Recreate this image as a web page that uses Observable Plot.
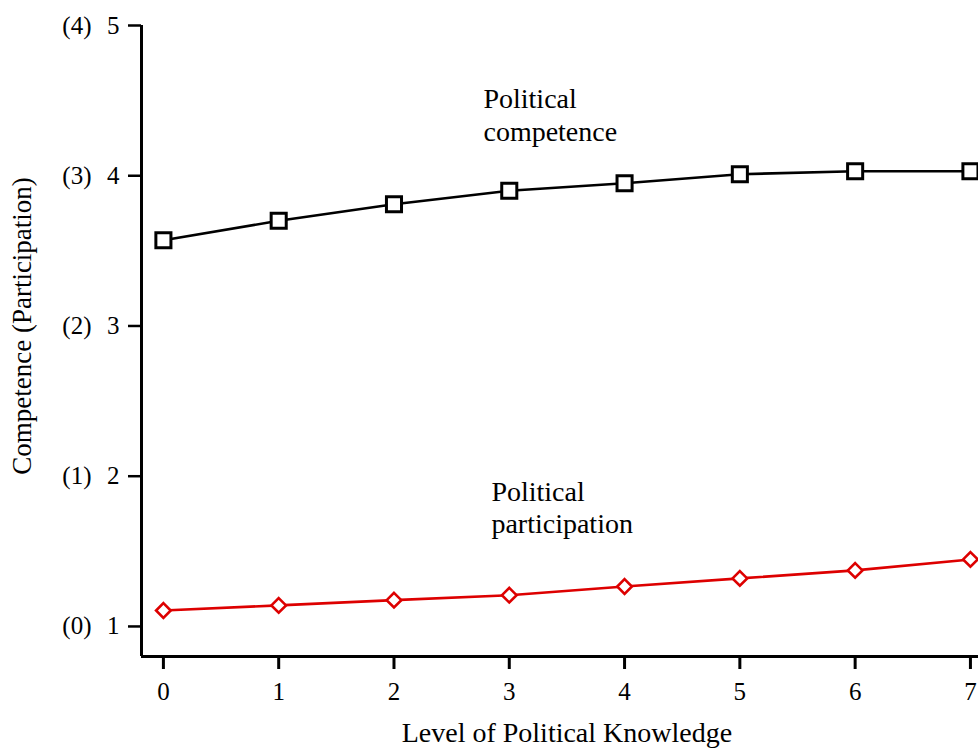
<!DOCTYPE html>
<html><head><meta charset="utf-8">
<script src="https://cdn.jsdelivr.net/npm/d3@7"></script>
<script src="https://cdn.jsdelivr.net/npm/@observablehq/plot@0.6"></script>
<style>
html,body{margin:0;padding:0;background:#fff;overflow:hidden;}
svg{display:block;}
</style>
</head><body>
<div id="chart"></div>
<script>
const knowledge = [0, 1, 2, 3, 4, 5, 6, 7];
const competence = [3.57, 3.70, 3.81, 3.90, 3.95, 4.01, 4.03, 4.03];
const participation = [1.106, 1.14, 1.175, 1.208, 1.266, 1.32, 1.373, 1.446];
const xTicks = [0, 1, 2, 3, 4, 5, 6, 7];
const yTicks = [1, 2, 3, 4, 5];
const participationTickLabels = ["(0)", "(1)", "(2)", "(3)", "(4)"];
const seriesLabels = ["Political\ncompetence", "Political\nparticipation"];
const xTitle = "Level of Political Knowledge";
const yTitle = "Competence (Participation)";

const compData = knowledge.map((k, i) => ({k, v: competence[i]}));
const partData = knowledge.map((k, i) => ({k, v: participation[i]}));
const xDomain = [-0.19, 7.07];
const yDomain = [0.8, 5];
const font = "Liberation Serif";

const chart = Plot.plot({
  width: 978,
  height: 749,
  marginLeft: 141,
  marginRight: 0,
  marginTop: 25,
  marginBottom: 93,
  style: {fontFamily: font, fontSize: "25px", color: "#000", background: "#fff", overflow: "hidden"},
  x: {domain: xDomain},
  y: {domain: yDomain},
  marks: [
    Plot.ruleX([xDomain[0]], {y1: yDomain[0], y2: yDomain[1], stroke: "#000", strokeWidth: 3}),
    Plot.ruleY([yDomain[0]], {stroke: "#000", strokeWidth: 3}),
    Plot.axisX({ticks: xTicks, tickSize: 13, tickPadding: 13, strokeWidth: 3, tickFormat: d => String(d), label: null, fontSize: 25}),
    Plot.axisY({ticks: yTicks, tickSize: 13, tickPadding: 9, strokeWidth: 2.5, tickFormat: d => String(d), label: null, fontSize: 25}),
    Plot.axisY({ticks: yTicks, tickSize: 0, tickPadding: 50, tickFormat: d => participationTickLabels[yTicks.indexOf(d)], label: null, fontSize: 25}),
    Plot.text([yTitle], {x: xDomain[0], y: 3, dx: -119, rotate: -90, fontSize: 27, fill: "#000"}),
    Plot.text([xTitle], {x: 3.5, frameAnchor: "bottom", lineAnchor: "middle", dy: 77, fontSize: 28, fill: "#000"}),
    Plot.line(compData, {x: "k", y: "v", stroke: "#000", strokeWidth: 2.6}),
    Plot.dot(compData, {x: "k", y: "v", symbol: "square", r: 8.5, stroke: "#000", strokeWidth: 3, fill: "#fff"}),
    Plot.line(partData, {x: "k", y: "v", stroke: "#dd0000", strokeWidth: 2.6}),
    Plot.dot(partData, {x: "k", y: "v", symbol: "diamond2", r: 6.6, stroke: "#dd0000", strokeWidth: 2.6, fill: "#fff"}),
    Plot.text([seriesLabels[0]], {x: 2.776, y: 4.41, textAnchor: "start", fontSize: 28, lineHeight: 1.15, fill: "#000"}),
    Plot.text([seriesLabels[1]], {x: 2.845, y: 1.795, textAnchor: "start", fontSize: 28, lineHeight: 1.15, fill: "#000"})
  ]
});
document.getElementById("chart").appendChild(chart);
</script>
</body></html>
